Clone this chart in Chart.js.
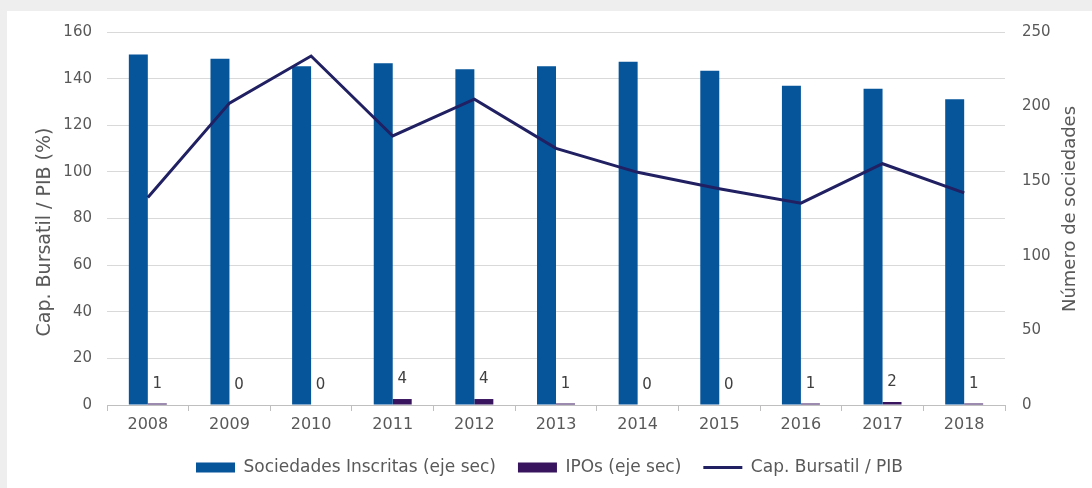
<!DOCTYPE html>
<html>
<head>
<meta charset="utf-8">
<script src="https://cdn.jsdelivr.net/npm/chart.js@4/dist/chart.umd.min.js"></script>
<style>
  html, body { margin: 0; padding: 0; background: #eeeeee; }
  #panel { position: absolute; left: 7px; top: 11px; width: 1085px; height: 477px; background: #ffffff; }
</style>
</head>
<body>
<div id="panel"><canvas id="mainChart" width="1085" height="477"></canvas></div>
<script>
// data
const years = ['2008', '2009', '2010', '2011', '2012', '2013', '2014', '2015', '2016', '2017', '2018'];
const sociedades = [235, 232, 227, 229, 225, 227, 230, 224, 214, 212, 205];
const ipos = [1, 0, 0, 4, 4, 1, 0, 0, 1, 2, 1];
const capBursatil = [89.0, 129.5, 149.7, 115.4, 131.2, 110.1, 99.8, 92.8, 86.6, 103.5, 91.0];
const leftTicks = [0, 20, 40, 60, 80, 100, 120, 140, 160];
const rightTicks = [0, 50, 100, 150, 200, 250];

const textColor = '#595959';
const fontFamily = '"DejaVu Sans", sans-serif';

// numbers above the IPO bars
const ipoLabels = {
    id: 'ipoLabels',
    afterDatasetsDraw(chart) {
        const ctx = chart.ctx;
        const meta = chart.getDatasetMeta(1);
        ctx.save();
        ctx.font = '15px ' + fontFamily;
        ctx.fillStyle = '#404040';
        ctx.textAlign = 'center';
        ctx.textBaseline = 'alphabetic';
        meta.data.forEach((bar, i) => {
            ctx.fillText(String(ipos[i]), bar.x, bar.y - 16);
        });
        ctx.restore();
    }
};

// both axis titles read bottom to top
function drawVerticalTitle(ctx, text, size, x, y) {
    ctx.save();
    ctx.translate(x, y);
    ctx.rotate(-Math.PI / 2);
    ctx.font = size + 'px ' + fontFamily;
    ctx.fillStyle = textColor;
    ctx.textAlign = 'center';
    ctx.textBaseline = 'middle';
    ctx.fillText(text, 0, 0);
    ctx.restore();
}

const axisTitles = {
    id: 'axisTitles',
    afterDraw(chart) {
        drawVerticalTitle(chart.ctx, 'Cap. Bursatil / PIB (%)', 19, 38, 221);
        drawVerticalTitle(chart.ctx, 'Número de sociedades', 18, 1063, 198);
    }
};

const ctx = document.getElementById('mainChart').getContext('2d');
new Chart(ctx, {
    type: 'bar',
    data: {
        labels: years,
        datasets: [
            {
                label: 'Sociedades Inscritas (eje sec)',
                data: sociedades,
                backgroundColor: '#06559b',
                borderWidth: 0,
                yAxisID: 'y1',
                order: 1,
                barPercentage: 1,
                categoryPercentage: 0.465
            },
            {
                label: 'IPOs (eje sec)',
                data: ipos,
                backgroundColor: '#38145f',
                borderWidth: 0,
                yAxisID: 'y1',
                order: 1,
                barPercentage: 1,
                categoryPercentage: 0.465
            },
            {
                type: 'line',
                label: 'Cap. Bursatil / PIB',
                data: capBursatil,
                borderColor: '#202063',
                backgroundColor: '#202063',
                borderWidth: 3,
                pointRadius: 0,
                tension: 0,
                yAxisID: 'y',
                order: 0
            }
        ]
    },
    options: {
        responsive: false,
        animation: false,
        layout: { padding: { top: 21, left: 0, right: 0, bottom: 2 } },
        plugins: {
            tooltip: { enabled: false },
            legend: {
                position: 'bottom',
                labels: {
                    color: textColor,
                    font: { family: fontFamily, size: 17 },
                    usePointStyle: true,
                    pointStyleWidth: 39,
                    boxHeight: 10,
                    padding: 22,
                    generateLabels(chart) {
                        const items = Chart.defaults.plugins.legend.labels.generateLabels(chart);
                        items.sort((a, b) => a.datasetIndex - b.datasetIndex);
                        items.forEach(item => {
                            if (item.datasetIndex === 2) {
                                item.pointStyle = 'line';
                                item.lineWidth = 3;
                                item.strokeStyle = '#202063';
                            } else {
                                item.pointStyle = 'rect';
                                item.lineWidth = 0;
                            }
                        });
                        return items;
                    }
                }
            }
        },
        scales: {
            x: {
                grid: {
                    display: true,
                    drawOnChartArea: false,
                    drawTicks: true,
                    tickLength: 6,
                    color: '#bfbfbf',
                    offset: true
                },
                border: { display: true, color: '#bfbfbf' },
                ticks: {
                    color: textColor,
                    font: { family: fontFamily, size: 16 },
                    padding: 4,
                    maxRotation: 0
                },
                afterFit(scale) { scale.height = 32; }
            },
            y: {
                position: 'left',
                min: 0,
                max: leftTicks[leftTicks.length - 1],
                afterBuildTicks(scale) { scale.ticks = leftTicks.map(v => ({ value: v })); },
                grid: { color: '#d9d9d9', drawTicks: false },
                border: { display: false },
                ticks: {
                    color: textColor,
                    font: { family: fontFamily, size: 15 },
                    padding: 15
                },
                afterFit(scale) {
                    scale.width = 100;
                    scale.paddingTop = 0;
                    scale.paddingBottom = 0;
                }
            },
            y1: {
                position: 'right',
                min: 0,
                max: rightTicks[rightTicks.length - 1],
                afterBuildTicks(scale) { scale.ticks = rightTicks.map(v => ({ value: v })); },
                grid: { drawOnChartArea: false, drawTicks: false },
                border: { display: false },
                ticks: {
                    color: textColor,
                    font: { family: fontFamily, size: 15 },
                    padding: 17
                },
                afterFit(scale) {
                    scale.width = 87;
                    scale.paddingTop = 0;
                    scale.paddingBottom = 0;
                }
            }
        }
    },
    plugins: [ipoLabels, axisTitles]
});
</script>
</body>
</html>
